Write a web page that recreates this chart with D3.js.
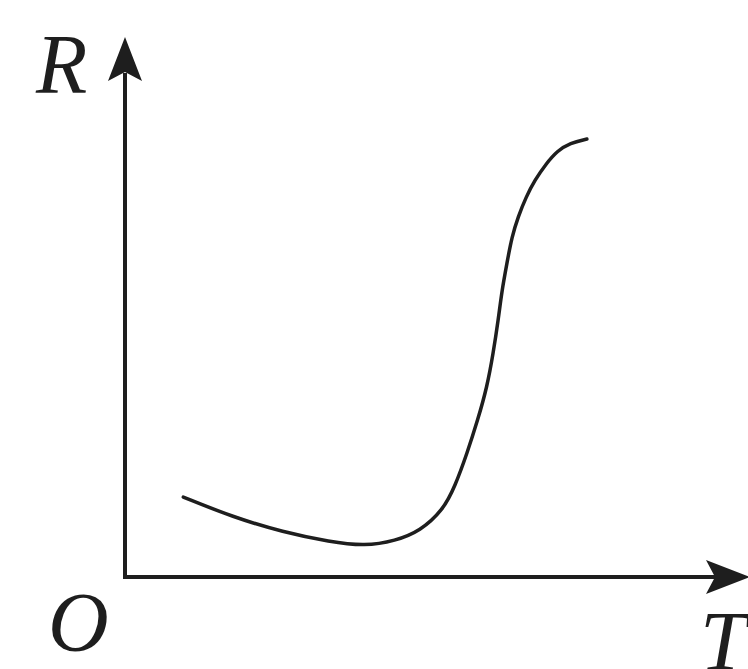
<!DOCTYPE html>
<html>
<head>
<meta charset="utf-8">
<script src="https://cdn.jsdelivr.net/npm/d3@7"></script>
<style>
  html, body { margin: 0; padding: 0; background: #fff; }
  svg { display: block; }
</style>
</head>
<body>
<svg id="chart" width="748" height="669"></svg>
<script>
// Temperature T (arbitrary units) and resistance R (arbitrary units)
const temps = [0.94, 1.74, 2.55, 3.31, 3.87, 4.36, 4.76, 5.13, 5.32, 5.52, 5.69, 5.84, 5.94, 6.02, 6.08, 6.16, 6.24, 6.34, 6.47, 6.61, 6.79, 6.97, 7.18, 7.45];
const resist = [1.48, 1.11, 0.83, 0.65, 0.57, 0.67, 0.85, 1.24, 1.67, 2.30, 2.91, 3.52, 4.15, 4.76, 5.31, 5.81, 6.30, 6.67, 7.04, 7.35, 7.65, 7.89, 8.04, 8.11];
const axisLabels = { x: "T", y: "R", origin: "O" };
const axisMax = { x: 10, y: 10 };

const svg = d3.select("#chart");
const x = d3.scaleLinear().domain([0, axisMax.x]).range([125, 745]);
const y = d3.scaleLinear().domain([0, axisMax.y]).range([577, 37]);
const ink = "#1e1e1e";

// axes
svg.append("line")
  .attr("x1", x(0)).attr("y1", y(0))
  .attr("x2", x(0)).attr("y2", y(axisMax.y) + 36)
  .attr("stroke", ink).attr("stroke-width", 4);
svg.append("line")
  .attr("x1", x(0) - 2).attr("y1", y(0))
  .attr("x2", x(axisMax.x) - 30).attr("y2", y(0))
  .attr("stroke", ink).attr("stroke-width", 4);

// arrowheads
const yTip = [x(0), y(axisMax.y)];
svg.append("path")
  .attr("d", `M${yTip[0]},${yTip[1]} L${yTip[0] + 17},${yTip[1] + 44} L${yTip[0]},${yTip[1] + 35} L${yTip[0] - 17},${yTip[1] + 44} Z`)
  .attr("fill", ink);
const xTip = [x(axisMax.x) + 5, y(0)];
svg.append("path")
  .attr("d", `M${xTip[0]},${xTip[1]} L${xTip[0] - 44},${xTip[1] - 17} L${xTip[0] - 35},${xTip[1]} L${xTip[0] - 44},${xTip[1] + 17} Z`)
  .attr("fill", ink);

// curve
const pts = temps.map((t, i) => [t, resist[i]]);
const line = d3.line()
  .x(d => x(d[0]))
  .y(d => y(d[1]))
  .curve(d3.curveBasis);
svg.append("path")
  .datum(pts)
  .attr("d", line)
  .attr("fill", "none")
  .attr("stroke", ink)
  .attr("stroke-width", 3.5)
  .attr("stroke-linecap", "round");

// labels
const font = "'Liberation Serif', 'DejaVu Serif', serif";
svg.append("text").text(axisLabels.y)
  .attr("x", 36).attr("y", 93)
  .attr("font-family", font).attr("font-style", "italic")
  .attr("font-size", 84).attr("fill", ink);
svg.append("text").text(axisLabels.origin)
  .attr("x", 48).attr("y", 651)
  .attr("font-family", font).attr("font-style", "italic")
  .attr("font-size", 84).attr("fill", ink);
svg.append("text").text(axisLabels.x)
  .attr("x", 700).attr("y", 670)
  .attr("font-family", font).attr("font-style", "italic")
  .attr("font-size", 84).attr("fill", ink);
</script>
</body>
</html>
